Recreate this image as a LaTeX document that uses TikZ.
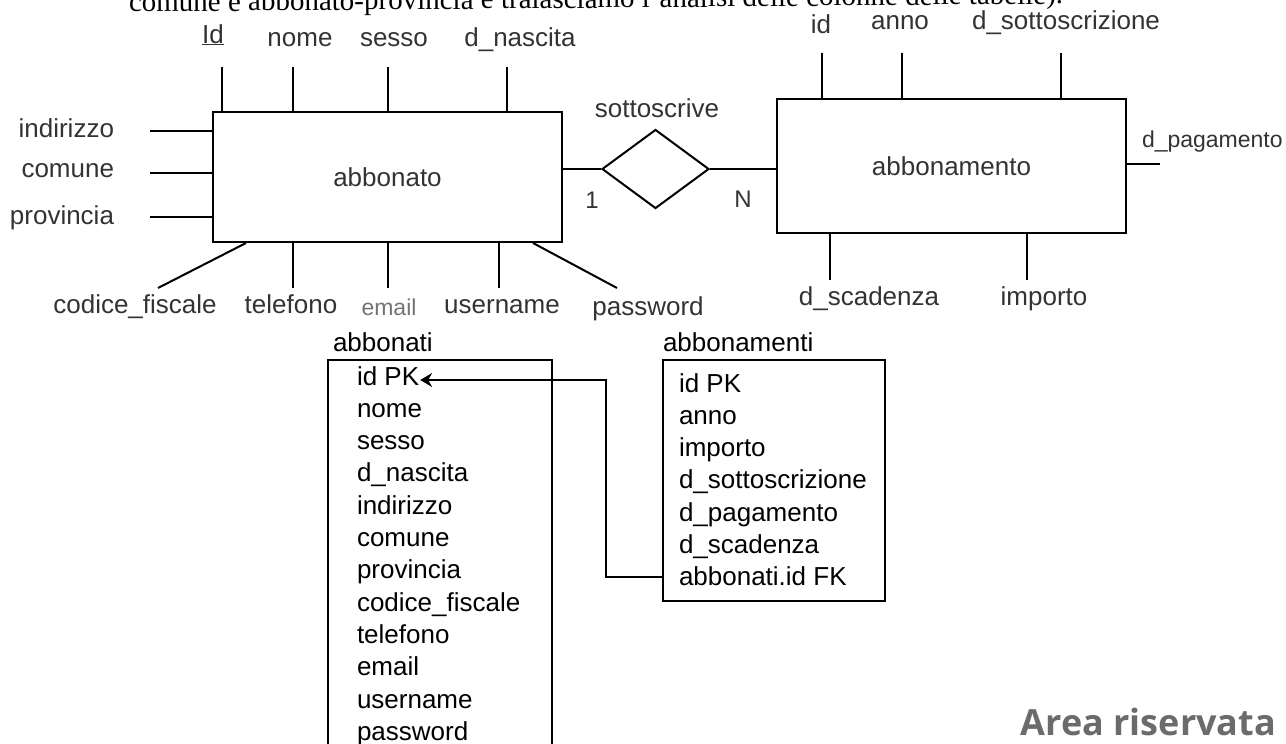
\documentclass[tikz,border=0pt]{standalone}
\usepackage{fontspec}
\setmainfont{Liberation Serif}
\newfontfamily\arialfont{Liberation Sans}
\newfontfamily\areafont{Open Sans}
\usetikzlibrary{shapes.geometric,arrows.meta}
\newcommand\erfont{\arialfont\fontsize{26}{30}\selectfont}
\newcommand\tabfont{\arialfont\fontsize{26}{30}\selectfont}
\tikzset{
  attr/.style={font=\erfont,text=black!80,inner sep=0pt,anchor=base},
  riga/.style={font=\tabfont,inner sep=0pt,anchor=base west},
}
\begin{document}
\begin{tikzpicture}[x=1pt,y=-1pt,line width=2pt]
  \useasboundingbox (0,0) rectangle (1286,744);
  \clip (0,0) rectangle (1286,744);
  % riga di testo tagliata in alto
  \node[anchor=base west,inner sep=0pt,rotate=0.5,font=\fontsize{29}{34}\selectfont] (testo) at (128,12)
    {comune e abbonato-provincia e tralasciamo l'analisi delle colonne delle tabelle).};
  % entita' e relazione
  \node[draw,minimum width=349pt,minimum height=130pt,font=\erfont,text=black!80] (abbonato) at (387.5,177) {abbonato};
  \node[draw,minimum width=349pt,minimum height=134pt,font=\erfont,text=black!80] (abbonamento) at (951.5,166) {abbonamento};
  \node[draw,diamond,minimum width=107pt,minimum height=79pt,inner sep=0pt] (sottoscrive) at (655.5,169) {};
  \node[attr] (rel) at (657,117) {sottoscrive};
  \draw (sottoscrive.west) -- (sottoscrive.west -| abbonato.east);
  \draw (sottoscrive.east) -- (sottoscrive.east -| abbonamento.west);
  \node[attr,font=\arialfont\fontsize{24}{28}\selectfont] (uno) at (592,208) {1};
  \node[attr,font=\arialfont\fontsize{24}{28}\selectfont] (enne) at (743,207) {N};
  % attributi di abbonato
  \foreach \x/\lx/\by/\txt [count=\i] in {222/213/43/\underline{Id},293/300/46/nome,388/394/46/sesso,507/520/46/d\_nascita}{
    \node[attr] (su\i) at (\lx,\by) {\txt};
    \coordinate (psu\i) at (\x,67);
    \draw (psu\i) -- (psu\i |- abbonato.north);
  }
  \foreach \y/\by/\txt [count=\i] in {131/137/indirizzo,173/177/comune,217/224/provincia}{
    \node[attr,anchor=base east] (sx\i) at (115,\by) {\txt};
    \coordinate (psx\i) at (150,\y);
    \draw (psx\i) -- (psx\i -| abbonato.west);
  }
  \node[attr] (cf) at (135,313) {codice\_fiscale};
  \node[attr] (tel) at (291,313) {telefono};
  \node[attr,font=\arialfont\fontsize{23}{27}\selectfont,text=black!55] (mail) at (389,315) {email};
  \node[attr] (user) at (502,313) {username};
  \node[attr] (pwd) at (648,315) {password};
  \coordinate (pcf) at (158,288);
  \coordinate (ppwd) at (617,288);
  \draw (pcf) -- ([xshift=34pt]abbonato.south west);
  \draw (ppwd) -- ([xshift=-30pt]abbonato.south east);
  \foreach \x in {293,388,499}{
    \coordinate (pg) at (\x,288);
    \draw (pg) -- (pg |- abbonato.south);
  }
  % attributi di abbonamento
  \foreach \x/\lx/\by/\txt [count=\i] in {822/821/34/id,902/900/30/anno,1061/1066/30/d\_sottoscrizione}{
    \node[attr] (au\i) at (\lx,\by) {\txt};
    \coordinate (pau\i) at (\x,53);
    \draw (pau\i) -- (pau\i |- abbonamento.north);
  }
  \foreach \x/\lx/\txt [count=\i] in {830/869/d\_scadenza,1027/1044/importo}{
    \node[attr] (ag\i) at (\lx,305) {\txt};
    \coordinate (pag\i) at (\x,280);
    \draw (pag\i) -- (pag\i |- abbonamento.south);
  }
  \node[attr,anchor=base west,font=\arialfont\fontsize{23}{27}\selectfont] (pag) at (1141,147) {d\_pagamento};
  \coordinate (ppag) at (1160,164);
  \draw (ppag) -- (ppag -| abbonamento.east);
  % tabelle
  \node[riga] (tabbonati) at (332,351) {abbonati};
  \node[riga] (tabbonamenti) at (662,351) {abbonamenti};
  \node[draw,anchor=north west,minimum width=224pt,minimum height=420pt,inner sep=0pt] (abbonati) at (327,359) {};
  \node[draw,anchor=north west,minimum width=222pt,minimum height=241pt,inner sep=0pt] (abbonamenti) at (662,359) {};
  \foreach \txt [count=\i from 0] in {id PK,nome,sesso,d\_nascita,indirizzo,comune,provincia,codice\_fiscale,telefono,email,username,password}
    \node[riga] (ri\i) at (356,{385+32.3*\i}) {\txt};
  \foreach \txt [count=\i from 0] in {id PK,anno,importo,d\_sottoscrizione,d\_pagamento,d\_scadenza,abbonati.id FK}
    \node[riga] (rm\i) at (678,{392+32.3*\i}) {\txt};
  \coordinate (gomito) at (606,380);
  \draw[-{Stealth[length=12pt,width=14pt,inset=4pt]}] (rm6.west -| abbonamenti.west) -| (gomito) -- (gomito -| ri0.east);
  \node[anchor=base east,inner sep=0pt,font=\areafont\bfseries\fontsize{36}{41}\selectfont,text=black!58] (area) at (1277,735) {Area riservata};
\end{tikzpicture}
\end{document}
